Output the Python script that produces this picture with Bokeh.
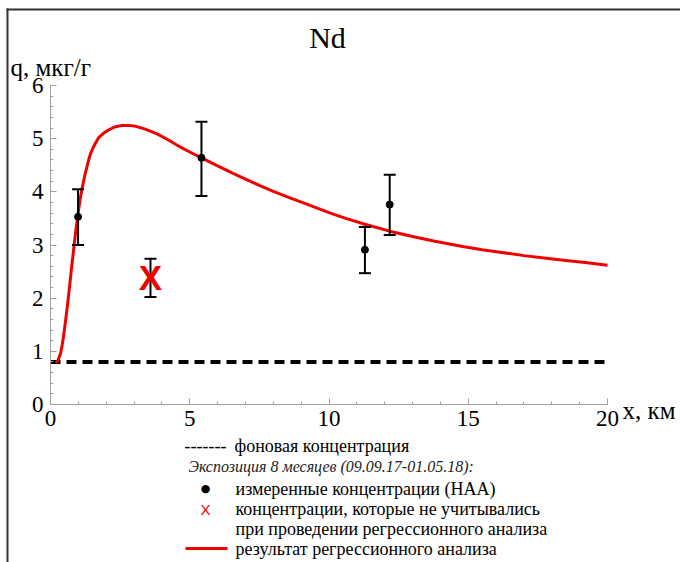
from bokeh.plotting import figure
from bokeh.models import Range1d, SingleIntervalTicker
from bokeh.core.properties import value
from bokeh.embed import file_html
from bokeh.resources import INLINE

# ---- data ----
pts_x = [0.99, 5.42, 11.29, 12.18]
pts_y = [3.53, 4.64, 2.91, 3.76]
pts_lo = [3.00, 3.92, 2.47, 3.19]
pts_hi = [4.05, 5.32, 3.34, 4.32]

excl_x = [3.59]
excl_y = [2.39]
excl_lo = [2.02]
excl_hi = [2.74]

background = 0.8
bg_x = [0, 20]

fit_x = [0.2, 0.27, 0.36, 0.42, 0.48, 0.54, 0.6, 0.66, 0.72, 0.78, 0.84, 0.91, 0.99,
         1.06, 1.14, 1.22, 1.3, 1.37, 1.44, 1.52, 1.6, 1.73, 1.9, 2.04, 2.3, 2.57,
         2.8, 3.0, 3.4, 3.83, 4.25, 4.67, 5.0, 5.42, 6.0, 6.5, 7.0, 7.5, 8.0, 8.62,
         9.2, 9.6, 10.05, 10.6, 11.29, 12.18, 13.0, 13.8, 14.8, 15.5, 16.2, 17.0,
         17.8, 18.5, 19.2, 20.0]
fit_y = [0.78, 0.83, 0.96, 1.12, 1.33, 1.57, 1.83, 2.1, 2.39, 2.68, 2.96, 3.28, 3.59,
         3.85, 4.08, 4.28, 4.45, 4.6, 4.72, 4.82, 4.9, 5.02, 5.1, 5.15, 5.22, 5.25,
         5.25, 5.24, 5.18, 5.09, 4.97, 4.84, 4.75, 4.64, 4.49, 4.36, 4.24, 4.12, 4.01, 3.88,
         3.77, 3.69, 3.6, 3.50, 3.39, 3.26, 3.16, 3.07, 2.97, 2.91, 2.86, 2.80,
         2.75, 2.71, 2.67, 2.62]

title_text = "Nd"
ylabel_text = "q, мкг/г"
xlabel_text = "x, км"
legend_bg = "фоновая концентрация"
legend_exp = "Экспозиция 8 месяцев (09.09.17-01.05.18):"
legend_meas = "измеренные концентрации (НАА)"
legend_excl1 = "концентрации, которые не учитывались"
legend_excl2 = "при проведении регрессионного анализа"
legend_fit = "результат регрессионного анализа"

W, H = 680, 562
FL, FR, FT, FB = 50, 607, 85, 404  # axis extents in canvas pixels
SX = (FR - FL) / 20.0
SY = (FB - FT) / 6.0
SERIF = "Liberation Serif"
RED = "#f00000"


def dx(px):
    return (px - FL) / SX


def dy(py):
    return (FB - py) / SY


p = figure(width=W, height=H,
           x_range=Range1d(dx(0), dx(W)), y_range=Range1d(dy(H), dy(0)),
           output_backend="svg", toolbar_location=None,
           min_border=0, min_border_left=0, min_border_right=0,
           min_border_top=0, min_border_bottom=0)
p.grid.visible = False
p.outline_line_color = None
p.background_fill_color = "white"
p.border_fill_color = "white"

p.xaxis.ticker = SingleIntervalTicker(interval=5, num_minor_ticks=5)
p.yaxis.ticker = SingleIntervalTicker(interval=1, num_minor_ticks=5)
p.xaxis.fixed_location = 0
p.yaxis.fixed_location = 0
p.xaxis.bounds = (0, 20)
p.yaxis.bounds = (0, 6)
for ax in (p.xaxis[0], p.yaxis[0]):
    ax.axis_line_color = "#a0a0a0"
    ax.major_tick_line_color = "#a0a0a0"
    ax.minor_tick_line_color = "#a0a0a0"
    ax.major_tick_in = 6
    ax.major_tick_out = 0
    ax.minor_tick_in = 3
    ax.minor_tick_out = 0
    ax.major_label_text_font = SERIF
    ax.major_label_text_font_size = "23px"
    ax.major_label_text_color = "black"
p.xaxis.major_label_standoff = 6
p.yaxis.major_label_standoff = 7

# background line
p.line(bg_x, [background, background], line_color="black", line_width=4, line_dash="10 6")
# regression curve
p.line(fit_x, fit_y, line_color=RED, line_width=3, line_join="round")
# error bars
p.segment(pts_x, pts_lo, pts_x, pts_hi, line_color="black", line_width=2)
p.dash(pts_x, pts_lo, size=12, line_color="black", line_width=2)
p.dash(pts_x, pts_hi, size=12, line_color="black", line_width=2)
p.scatter(pts_x, pts_y, size=7, color="black")
p.segment(excl_x, excl_lo, excl_x, excl_hi, line_color="black", line_width=2)
p.dash(excl_x, excl_lo, size=12, line_color="black", line_width=2)
p.dash(excl_x, excl_hi, size=12, line_color="black", line_width=2)
p.text(excl_x, excl_y, text=["X"], text_color=RED, text_font=value("Liberation Sans"),
       text_font_size="35px", text_font_style="bold",
       text_align="center", text_baseline="middle")


def lab(text, X, Y, size, align="left", baseline="middle", color="black",
        font=SERIF, style="normal"):
    p.text([dx(X)], [dy(Y)], text=[text], text_font=value(font), text_font_size=size,
           text_align=align, text_baseline=baseline, text_color=color,
           text_font_style=style)


def hline(x0, x1, y, color, width):
    p.line([dx(x0), dx(x1)], [dy(y), dy(y)], line_color=color, line_width=width)


# picture border (top and left)
p.line([dx(7), dx(7)], [dy(8), dy(H + 5)], line_color="#333333", line_width=2)
hline(6, W + 5, 9, "#333333", 2)

lab(title_text, 327, 37, "30px", align="center", baseline="alphabetic")
lab(ylabel_text, 10, 67, "25px", baseline="alphabetic")
lab(xlabel_text, 622, 410, "25px", baseline="alphabetic")

# legend
lab("-------", 184, 445, "18px")
lab(legend_bg, 234, 445, "18px")
lab(legend_exp, 188, 466, "16px", color="#222222", style="italic")
lab("●", 205, 488, "11px", align="center", font="DejaVu Sans")
lab(legend_meas, 235, 488, "18px")
lab("X", 205, 509, "15px", align="center", color=RED, font="Liberation Sans")
lab(legend_excl1, 235, 508, "18px")
lab(legend_excl2, 235, 528, "18px")
hline(185, 227, 548, RED, 3)
lab(legend_fit, 235, 548, "18px")

open("out.html", "w").write(file_html(p, INLINE))
